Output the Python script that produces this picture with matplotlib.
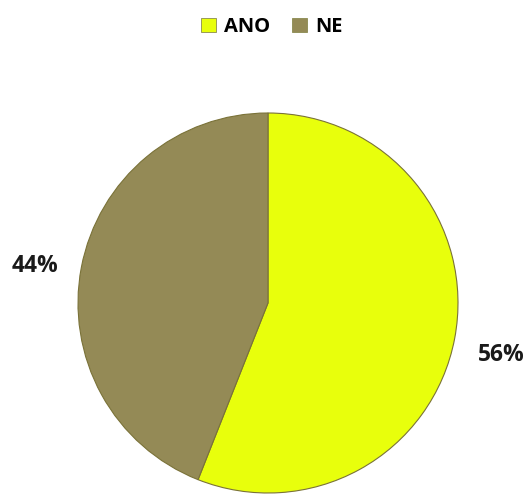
import matplotlib.pyplot as plt
from matplotlib.patches import Patch

labels = ['ANO', 'NE']
values = [56, 44]
colors = ['#E8FF0C', '#948A56']

plt.rcParams['font.family'] = ['Open Sans', 'DejaVu Sans']

fig = plt.figure(figsize=(5.26, 4.97), dpi=100)
ax = fig.add_axes([78 / 526, 4 / 497, 380 / 526, 380 / 497])

wedges, texts, autotexts = ax.pie(
    values, colors=colors, startangle=90, counterclock=False,
    autopct='%1.0f%%', pctdistance=1.25, radius=1,
    wedgeprops=dict(edgecolor='#7A7238', linewidth=0.8),
    textprops=dict(fontsize=16.5, fontweight='bold', color='#1a1a1a'))

# nudge the percentage labels slightly below the slice mid-angle
for t in autotexts:
    x, y = t.get_position()
    t.set_position((x, y - 0.04))

ax.set_xlim(-1, 1)
ax.set_ylim(-1, 1)
ax.set_aspect('equal')
ax.axis('off')

handles = [Patch(facecolor=c, edgecolor='#8a8a50', linewidth=0.6) for c in colors]
fig.legend(handles, labels, loc='center', bbox_to_anchor=(272 / 526, 1 - 27 / 497),
           ncol=2, frameon=False, handlelength=0.75, handleheight=0.75,
           handletextpad=0.4, columnspacing=1.1,
           prop=dict(size=14.5, weight='bold'))

fig.savefig('out.png', dpi=100, facecolor='white')
